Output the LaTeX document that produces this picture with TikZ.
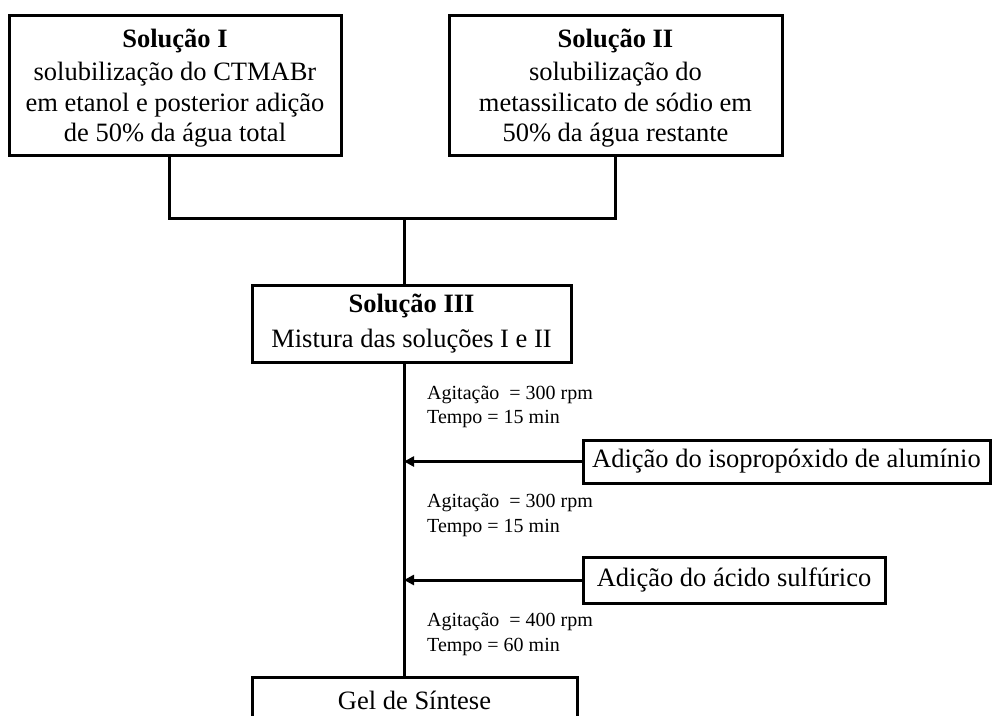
\documentclass[tikz,border=0pt]{standalone}
\usepackage{fontspec}
\setmainfont{Liberation Serif}
\usetikzlibrary{arrows.meta}
\begin{document}
\begin{tikzpicture}[x=1pt,y=-1pt,
  box/.style={draw, line width=3pt, rectangle, inner sep=0pt, align=center,
    font=\fontsize{26.5}{31}\selectfont},
  txt/.style={inner sep=0pt, align=center, font=\fontsize{26.5}{30.5}\selectfont},
  cond/.style={anchor=west, inner sep=0pt, align=left,
    font=\fontsize{20}{24.5}\selectfont},
  conn/.style={line width=3pt},
  arr/.style={line width=3pt, -{Triangle[length=10pt,width=10pt]}}]
\clip (0,0) rectangle (992,715);
\node[box, minimum width=332pt, minimum height=140pt] (b1) at (175,85) {};
\node[txt] (t1) at (175,88)
  {\textbf{Solução I}\\[3pt]solubilização do CTMABr\\em etanol e posterior adição\\de 50\% da água total};
\node[box, minimum width=333pt, minimum height=140pt] (b2) at (615.5,85) {};
\node[txt] (t2) at (615.5,88)
  {\textbf{Solução II}\\[3pt]solubilização do\\metassilicato de sódio em\\50\% da água restante};
\node[box, minimum width=319pt, minimum height=77pt,
  font=\fontsize{26.5}{35}\selectfont] (b3) at (411.5,323.5)
  {\textbf{Solução III}\\Mistura das soluções I e II};
\node[box, minimum width=407pt, minimum height=43pt] (bA) at (786.5,461.5)
  {Adição do isopropóxido de alumínio};
\node[box, minimum width=302pt, minimum height=46pt] (bB) at (734,580)
  {Adição do ácido sulfúrico};
\node[box, minimum width=325pt, minimum height=46pt] (gel) at (414.5,700)
  {Gel de Síntese};
\coordinate (j) at (404,218);
\coordinate (s1) at ([xshift=-6pt]b1.south);
\draw[conn] (s1) |- (j) -| (b2.south);
\draw[conn] (j) -- (j |- b3.north);
\draw[conn] (j |- b3.south) -- (j |- gel.north);
\draw[arr] (bA.west) -- (bA.west -| j);
\draw[arr] (bB.west) -- (bB.west -| j);
\node[cond] (c1) at (427,407) {Agitação~ = 300 rpm\\Tempo = 15 min};
\node[cond] (c2) at (427,515.5) {Agitação~ = 300 rpm\\Tempo = 15 min};
\node[cond] (c3) at (427,634.5) {Agitação~ = 400 rpm\\Tempo = 60 min};
\end{tikzpicture}
\end{document}
